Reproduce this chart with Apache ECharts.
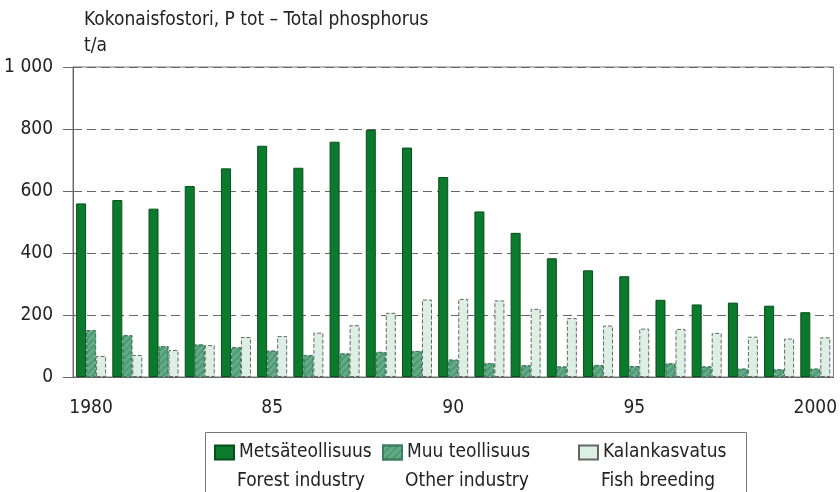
<!DOCTYPE html>
<html>
<head>
<meta charset="utf-8">
<script src="https://cdn.jsdelivr.net/npm/echarts@6/dist/echarts.min.js"></script>
<style>
html,body{margin:0;padding:0;background:#fff;}
#chart{width:840px;height:492px;}
</style>
</head>
<body>
<div id="chart"></div>
<script>
var years=["1980","1981","1982","1983","1984","1985","1986","1987","1988","1989","1990",
	"1991","1992","1993","1994","1995","1996","1997","1998","1999","2000"];
// t/a
var forest=[560,571,543,616,673,746,675,759,797,740,645,534,465,383,344,325,249,234,240,230,209];
var other=[151,135,100,105,96,85,71,76,81,84,56,45,38,34,39,35,44,34,27,25,27];
var fish=[68,71,87,103,129,132,143,167,207,250,252,247,220,190,166,156,155,142,130,124,128];
var namesFi=["Metsäteollisuus","Muu teollisuus","Kalankasvatus"];
var namesEn=["Forest industry","Other industry","Fish breeding"];

var FONT="'Liberation Sans Narrow','DejaVu Sans Condensed',sans-serif";
var txt={fontFamily:FONT,fontSize:19,color:'#222'};

var myChart=echarts.init(document.getElementById('chart'));

function legendAt(name,left){
	return {
		data:[name],left:left,top:443,padding:0,
		icon:'rect',itemWidth:19,itemHeight:14,
		selectedMode:false,textStyle:txt
	};
}

var option={
	animation:false,
	title:{
		text:'Kokonaisfostori, P tot – Total phosphorus',
		subtext:'t/a',
		left:84,top:11,padding:0,itemGap:7,
		textStyle:{fontFamily:FONT,fontSize:19,fontWeight:'normal',color:'#222'},
		subtextStyle:{fontFamily:FONT,fontSize:19,color:'#222'}
	},
	grid:{left:73,right:4,top:67,bottom:115,show:true,borderColor:'#777',borderWidth:1},
	xAxis:{
		type:'category',data:years,
		axisLine:{lineStyle:{color:'#666'}},
		axisTick:{alignWithLabel:true,interval:0,length:11,lineStyle:{color:'#666'}},
		axisLabel:{interval:4,margin:22,fontFamily:FONT,fontSize:19,color:'#222',
			formatter:function(v){
				if(v=="1980"||v=="2000") return v;
				return v.slice(2);
			}}
	},
	yAxis:{
		type:'value',min:0,max:1000,interval:200,
		axisLine:{show:true,lineStyle:{color:'#666'}},
		axisTick:{show:true,length:10,lineStyle:{color:'#666'}},
		axisLabel:{margin:20,fontFamily:FONT,fontSize:19,color:'#222',
			formatter:function(v){ return v==1000?'1 000':v; }},
		splitLine:{lineStyle:{color:'#666',type:[9,5]}}
	},
	legend:[legendAt(namesFi[0],214),legendAt(namesFi[1],382),legendAt(namesFi[2],578)],
	graphic:[
		{type:'rect',shape:{x:205.5,y:432.5,width:541,height:80},
			style:{fill:'none',stroke:'#777',lineWidth:1},silent:true},
		{type:'text',left:237,top:472,style:{text:namesEn[0],font:'19px '+FONT,fill:'#222'}},
		{type:'text',left:405,top:472,style:{text:namesEn[1],font:'19px '+FONT,fill:'#222'}},
		{type:'text',left:601,top:472,style:{text:namesEn[2],font:'19px '+FONT,fill:'#222'}}
	],
	series:[{
		name:namesFi[0],type:'bar',data:forest,barWidth:10,barGap:'0%',
		itemStyle:{color:'#0b7a2c',borderColor:'#06501c',borderWidth:1}
	},{
		name:namesFi[1],type:'bar',data:other,barWidth:10,barGap:'0%',
		itemStyle:{color:'#62ad88',borderColor:'#3f7e5e',borderWidth:1,borderType:'dashed',
			decal:{color:'rgba(20,90,55,0.25)',dashArrayX:[1,0],dashArrayY:[2,3],rotation:-Math.PI/4}}
	},{
		name:namesFi[2],type:'bar',data:fish,barWidth:10,barGap:'0%',
		itemStyle:{color:'#dcefe5',borderColor:'#666',borderWidth:1,borderType:'dashed'}
	}]
};
myChart.setOption(option);
</script>
</body>
</html>
